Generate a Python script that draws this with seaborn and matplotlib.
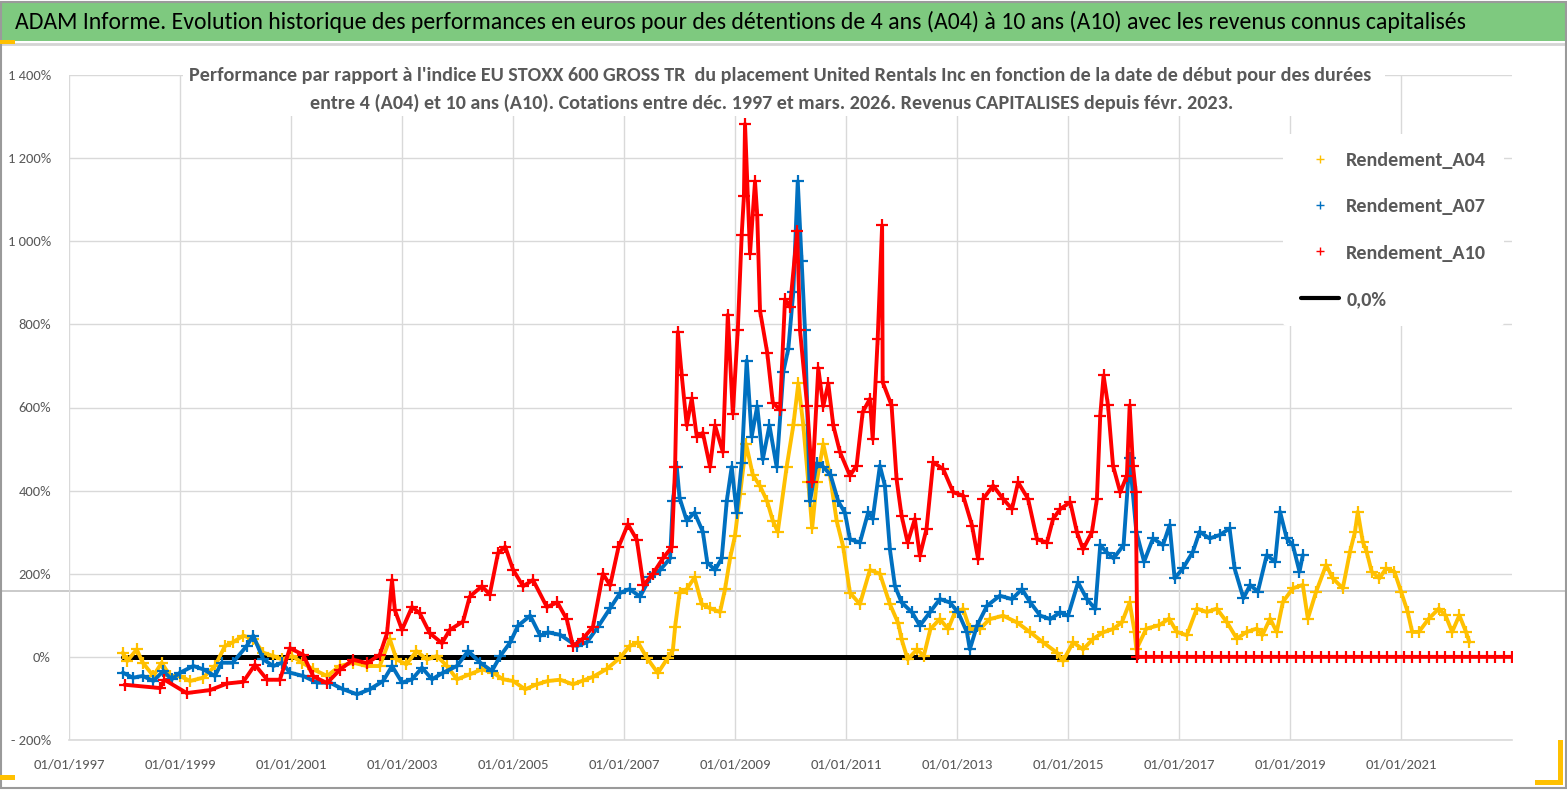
import numpy as np
import pandas as pd
import matplotlib
matplotlib.use("Agg")
import matplotlib.pyplot as plt
import matplotlib.dates as mdates
import matplotlib.ticker as mticker
from matplotlib import font_manager as fm
from matplotlib.lines import Line2D
from matplotlib.patches import Rectangle
import seaborn as sns

# ---------------- data (decimal years, % values) ----------------
a04_years = [1997.97, 1998.05, 1998.22, 1998.33, 1998.52, 1998.67, 1998.82, 1999.0, 1999.18, 1999.42,
             1999.63, 1999.81, 1999.95, 2000.14, 2000.32, 2000.5, 2000.68, 2000.84, 2001.02, 2001.2,
             2001.4, 2001.65, 2001.88, 2002.12, 2002.37, 2002.6, 2002.78, 2002.9, 2003.08, 2003.26,
             2003.45, 2003.63, 2003.81, 2003.99, 2004.22, 2004.44, 2004.64, 2004.82, 2005.0, 2005.22,
             2005.43, 2005.63, 2005.85, 2006.08, 2006.26, 2006.44, 2006.69, 2006.93, 2007.1, 2007.25,
             2007.41, 2007.61, 2007.79, 2007.88, 2007.92, 2008.0, 2008.13, 2008.27, 2008.4, 2008.55,
             2008.73, 2008.82, 2008.91, 2009.0, 2009.09, 2009.2, 2009.32, 2009.45, 2009.58, 2009.68,
             2009.77, 2009.93, 2010.05, 2010.14, 2010.23, 2010.32, 2010.39, 2010.47, 2010.59, 2010.71,
             2010.83, 2010.95, 2011.07, 2011.25, 2011.43, 2011.61, 2011.79, 2011.94, 2012.0, 2012.11,
             2012.28, 2012.4, 2012.52, 2012.69, 2012.84, 2012.96, 2013.11, 2013.23, 2013.41, 2013.59,
             2013.83, 2014.08, 2014.32, 2014.55, 2014.8, 2014.91, 2015.09, 2015.27, 2015.45, 2015.63,
             2015.81, 2015.97, 2016.11, 2016.2, 2016.23, 2016.41, 2016.64, 2016.82, 2016.96, 2017.14,
             2017.32, 2017.5, 2017.68, 2017.86, 2018.04, 2018.22, 2018.4, 2018.5, 2018.64, 2018.76,
             2018.87, 2019.05, 2019.23, 2019.32, 2019.47, 2019.65, 2019.77, 2019.95, 2020.08, 2020.17,
             2020.22, 2020.31, 2020.38, 2020.47, 2020.61, 2020.73, 2020.88, 2021.0, 2021.12, 2021.2,
             2021.32, 2021.5, 2021.68, 2021.8, 2021.92, 2022.05, 2022.17, 2022.23]
a04_values = [10, -10, 18, -14, -46, -14, -46, -46, -58, -50,
              -22, 26, 35, 51, 43, 10, 2, -6, 2, -14,
              -30, -46, -22, -14, -22, -22, 43, -6, -18, 14,
              -6, 2, -22, -54, -42, -30, -38, -54, -58, -78,
              -66, -58, -55, -66, -57, -48, -29, -2, 26, 35,
              -2, -39, -2, 16, 72, 154, 163, 191, 127, 117,
              108, 163, 237, 292, 392, 512, 438, 411, 374, 328,
              301, 457, 557, 658, 557, 420, 310, 420, 512, 438,
              328, 264, 154, 127, 209, 200, 127, 81, 43, -6,
              18, 2, 67, 91, 67, 107, 115, 67, 67, 91,
              99, 83, 59, 35, 10, -10, 35, 18, 43, 59,
              67, 83, 131, 59, 18, 68, 76, 92, 60, 52,
              116, 108, 116, 84, 44, 60, 68, 52, 92, 60,
              132, 165, 173, 92, 157, 221, 189, 165, 253, 301,
              349, 277, 253, 205, 189, 213, 205, 157, 108, 60,
              60, 92, 116, 100, 60, 100, 60, 36]

a07_years = [1997.97, 1998.15, 1998.33, 1998.52, 1998.7, 1998.85, 1999.0, 1999.24, 1999.42, 1999.63,
             1999.75, 1999.95, 2000.2, 2000.32, 2000.5, 2000.68, 2000.84, 2000.98, 2001.22, 2001.47,
             2001.7, 2001.94, 2002.19, 2002.42, 2002.66, 2002.82, 2003.0, 2003.18, 2003.36, 2003.54,
             2003.74, 2003.99, 2004.19, 2004.41, 2004.62, 2004.77, 2004.95, 2005.09, 2005.31, 2005.49,
             2005.63, 2005.85, 2006.15, 2006.33, 2006.53, 2006.75, 2006.93, 2007.1, 2007.29, 2007.47,
             2007.65, 2007.83, 2007.88, 2007.95, 2008.0, 2008.13, 2008.27, 2008.42, 2008.5, 2008.64,
             2008.76, 2008.85, 2008.94, 2009.03, 2009.12, 2009.21, 2009.3, 2009.4, 2009.5, 2009.62,
             2009.75, 2009.87, 2009.96, 2010.05, 2010.13, 2010.2, 2010.26, 2010.35, 2010.47, 2010.59,
             2010.72, 2010.86, 2010.98, 2011.07, 2011.25, 2011.4, 2011.48, 2011.61, 2011.7, 2011.79,
             2011.88, 2012.0, 2012.19, 2012.33, 2012.51, 2012.69, 2012.87, 2013.02, 2013.18, 2013.23,
             2013.36, 2013.54, 2013.77, 2013.99, 2014.17, 2014.32, 2014.5, 2014.68, 2014.86, 2015.0,
             2015.18, 2015.34, 2015.49, 2015.58, 2015.7, 2015.82, 2016.0, 2016.11, 2016.23, 2016.37,
             2016.53, 2016.71, 2016.83, 2016.92, 2017.07, 2017.25, 2017.37, 2017.55, 2017.73, 2017.91,
             2018.0, 2018.16, 2018.28, 2018.42, 2018.58, 2018.73, 2018.82, 2018.94, 2019.05, 2019.17,
             2019.23]
a07_values = [-38, -50, -46, -58, -34, -54, -38, -22, -30, -46,
              -14, -14, 26, 51, -6, -22, -14, -38, -46, -62,
              -62, -78, -90, -78, -58, -22, -62, -54, -26, -54,
              -38, -22, 14, -14, -34, 2, 35, 75, 99, 51,
              59, 53, 26, 35, 72, 117, 154, 163, 145, 191,
              209, 237, 374, 457, 383, 328, 347, 301, 227, 209,
              237, 374, 457, 347, 466, 713, 530, 603, 475, 557,
              457, 686, 741, 879, 1144, 952, 787, 374, 466, 457,
              438, 374, 347, 283, 275, 348, 332, 460, 412, 259,
              171, 131, 107, 75, 107, 139, 131, 107, 59, 18,
              75, 123, 147, 139, 163, 131, 99, 91, 107, 99,
              179, 139, 115, 269, 251, 237, 269, 478, 301, 229,
              285, 269, 317, 189, 213, 253, 301, 285, 293, 309,
              213, 141, 173, 157, 245, 229, 349, 285, 269, 205,
              245]

a10_years = [1998.0, 1998.64, 1998.72, 1999.12, 1999.54, 1999.85, 2000.14, 2000.35, 2000.57, 2000.8,
             2000.98, 2001.22, 2001.4, 2001.65, 2001.88, 2002.12, 2002.37, 2002.6, 2002.73, 2002.82,
             2002.87, 2003.0, 2003.18, 2003.32, 2003.5, 2003.72, 2003.86, 2004.1, 2004.22, 2004.44,
             2004.58, 2004.73, 2004.86, 2005.0, 2005.18, 2005.36, 2005.61, 2005.8, 2005.97, 2006.08,
             2006.26, 2006.44, 2006.62, 2006.75, 2006.9, 2007.07, 2007.23, 2007.35, 2007.52, 2007.7,
             2007.86, 2007.92, 2007.97, 2008.04, 2008.13, 2008.22, 2008.31, 2008.42, 2008.55, 2008.64,
             2008.78, 2008.87, 2008.96, 2009.05, 2009.12, 2009.16, 2009.18, 2009.27, 2009.36, 2009.4,
             2009.45, 2009.58, 2009.68, 2009.81, 2009.9, 2009.99, 2010.12, 2010.17, 2010.3, 2010.39,
             2010.5, 2010.59, 2010.68, 2010.77, 2010.89, 2011.07, 2011.19, 2011.3, 2011.43, 2011.48,
             2011.57, 2011.65, 2011.66, 2011.82, 2011.91, 2012.0, 2012.11, 2012.24, 2012.33, 2012.45,
             2012.57, 2012.75, 2012.93, 2013.11, 2013.27, 2013.38, 2013.47, 2013.65, 2013.83, 2013.99,
             2014.1, 2014.28, 2014.44, 2014.62, 2014.73, 2014.86, 2015.04, 2015.16, 2015.27, 2015.43,
             2015.52, 2015.58, 2015.64, 2015.72, 2015.81, 2015.94, 2016.06, 2016.11, 2016.17, 2016.22,
             2016.25, 2016.4, 2016.55, 2016.7, 2016.85, 2017.0, 2017.15, 2017.3, 2017.45, 2017.6,
             2017.75, 2017.9, 2018.05, 2018.2, 2018.35, 2018.5, 2018.65, 2018.8, 2018.95, 2019.1,
             2019.25, 2019.4, 2019.55, 2019.7, 2019.85, 2020.0, 2020.15, 2020.3, 2020.45, 2020.6,
             2020.75, 2020.9, 2021.05, 2021.2, 2021.35, 2021.5, 2021.65, 2021.8, 2021.95, 2022.1,
             2022.25, 2022.4, 2022.55, 2022.7, 2022.85, 2023.0]
a10_values = [-67, -75, -55, -87, -80, -64, -60, -19, -55, -55,
              21, 5, -47, -63, -31, -7, -15, 5, 57, 185,
              113, 65, 120, 105, 57, 33, 65, 85, 145, 170,
              150, 250, 265, 210, 170, 185, 120, 131, 90, 26,
              44, 72, 200, 172, 264, 319, 282, 172, 200, 237,
              264, 457, 782, 677, 557, 622, 530, 539, 457, 557,
              493, 823, 585, 787, 1016, 1108, 1282, 970, 1144, 1062,
              833, 732, 612, 594, 860, 842, 1025, 787, 603, 420,
              695, 603, 658, 557, 493, 436, 460, 589, 621, 524,
              765, 1038, 661, 605, 428, 340, 275, 332, 243, 308,
              468, 452, 396, 388, 316, 235, 380, 412, 380, 356,
              420, 380, 283, 275, 332, 356, 372, 300, 259, 300,
              380, 580, 677, 605, 460, 396, 436, 605, 460, 396,
              0, 0, 0, 0, 0, 0, 0, 0, 0, 0,
              0, 0, 0, 0, 0, 0, 0, 0, 0, 0,
              0, 0, 0, 0, 0, 0, 0, 0, 0, 0,
              0, 0, 0, 0, 0, 0, 0, 0, 0, 0,
              0, 0, 0, 0, 0, 0]

zero_years = [1997.97, 2016.25]
zero_values = [0, 0]

series_names = ["Rendement_A04", "Rendement_A07", "Rendement_A10"]
series_colors = ["#FFC000", "#0070C0", "#FF0000"]
zero_label = "0,0%"
x_tick_years = list(range(1997, 2022, 2))
y_ticks = list(range(-200, 1401, 200))

TITLE = ("ADAM Informe. Evolution historique des performances en euros pour des détentions "
         "de 4 ans (A04) à 10 ans (A10) avec les revenus connus capitalisés")
SUB1 = ("Performance par rapport à l'indice EU STOXX 600 GROSS TR  du placement United Rentals Inc "
        "en fonction de la date de début pour des durées")
SUB2 = ("entre 4 (A04) et 10 ans (A10). Cotations entre déc. 1997 et mars. 2026. "
        "Revenus CAPITALISES depuis févr. 2023.")


def to_dates(years):
    base = pd.Timestamp("1997-01-01")
    return [base + pd.to_timedelta((y - 1997) * 365.25, unit="D") for y in years]


# ---------------- style ----------------
sns.set_theme(style="white")
names = {f.name for f in fm.fontManager.ttflist}
FONT = "DejaVu Sans"
for cand in ["Carlito", "Liberation Sans Narrow", "PT Sans Narrow", "Roboto Condensed",
             "Open Sans Condensed", "Fira Sans Condensed", "IBM Plex Sans Condensed",
             "Archivo Narrow", "Encode Sans Condensed"]:
    if cand in names:
        FONT = cand
        break
plt.rcParams["font.family"] = [FONT, "DejaVu Sans"]

W, H = 1567, 790
fig = plt.figure(figsize=(W / 100, H / 100), dpi=100)
fig.patch.set_facecolor("white")
renderer = fig.canvas.get_renderer()


def fit_size(s, target_px, weight="normal", base=12.0):
    t = fig.text(0, 0, s, fontsize=base, fontweight=weight)
    w = t.get_window_extent(renderer=renderer).width
    t.remove()
    return base * target_px / w


def fx(px):
    return px / W


def fy(py):
    return 1 - py / H


fs_title = fit_size(TITLE, 1447)
fs_sub = fit_size(SUB1, 1186, "bold")
fs_x = fit_size("01/01/1997", 71)
fs_y = fit_size("1 400%", 43)
fs_leg = fit_size("Rendement_A04", 140, "bold")

ax = fig.add_axes([fx(69), fy(740), fx(1512) - fx(69), fy(75) - fy(740)])
ax.set_facecolor("white")

# gray guide line crossing the picture
ax.add_line(Line2D([0, 1], [fy(591), fy(591)], transform=fig.transFigure, color="#C6C6C6",
                   lw=1.3, clip_on=False, zorder=0.5))

# zero line
sns.lineplot(x=to_dates(zero_years), y=zero_values, ax=ax, color="black", lw=3.6,
             zorder=2, legend=False)

all_years = [a04_years, a07_years, a10_years]
all_vals = [a04_values, a07_values, a10_values]
for name, col, yrs, vals, z in zip(series_names, series_colors, all_years, all_vals, [3, 4, 5]):
    df = pd.DataFrame({"date": to_dates(yrs), "value": vals})
    sns.lineplot(data=df, x="date", y="value", ax=ax, color=col, lw=2.8, marker="+",
                 markersize=8, markeredgewidth=1.6, markeredgecolor=col, sort=False,
                 estimator=None, zorder=z, legend=False)

ax.set_xlim(pd.Timestamp("1997-01-01"), pd.Timestamp("2023-01-01"))
ax.set_ylim(-200, 1400)
ax.set_xticks([pd.Timestamp(f"{y}-01-01") for y in x_tick_years])
ax.xaxis.set_major_formatter(mdates.DateFormatter("%d/%m/%Y"))
ax.set_yticks(y_ticks)


def yfmt(v, pos):
    v = int(round(v))
    s = f"{abs(v):,}".replace(",", " ") + "%"
    return ("- " + s) if v < 0 else s


ax.yaxis.set_major_formatter(mticker.FuncFormatter(yfmt))
ax.grid(True, color="#D9D9D9", lw=1.0)
ax.set_axisbelow(True)
for s in ["top", "right", "left"]:
    ax.spines[s].set_visible(False)
ax.spines["bottom"].set_color("#D9D9D9")
ax.spines["bottom"].set_linewidth(1.2)
ax.tick_params(axis="both", length=0, colors="#595959")
ax.tick_params(axis="x", labelsize=fs_x, pad=13)
ax.tick_params(axis="y", labelsize=fs_y, pad=13)
ax.set_xlabel("")
ax.set_ylabel("")

# legend
handles = [Line2D([], [], color=c, marker="+", ls="none", markersize=6, markeredgewidth=1.0)
           for c in series_colors]
handles.append(Line2D([], [], color="black", lw=3))
fs_leg_px = fs_leg * 100 / 72
leg = ax.legend(handles, series_names + [zero_label], loc="upper left",
                bbox_to_anchor=((1283 - 69) / 1443, (740 - 134) / 665),
                frameon=True, facecolor="white", edgecolor="none", framealpha=1,
                fontsize=fs_leg, labelspacing=max(0.3, 46 / fs_leg_px - 0.84),
                handlelength=1.9, handletextpad=0.35,
                borderpad=0.9, borderaxespad=0)
for t in leg.get_texts():
    t.set_color("#595959")
    t.set_fontweight("bold")
leg.set_zorder(10)

# title bar
fig.add_artist(Rectangle((0, fy(41)), 1, fy(3) - fy(41), transform=fig.transFigure,
                         facecolor="#7EC97F", edgecolor="none", zorder=1))
fig.add_artist(Line2D([0, 1], [fy(44), fy(44)], transform=fig.transFigure, color="#D4D4D4", lw=2))
fig.text(fx(15), fy(22), TITLE, ha="left", va="center", fontsize=fs_title, color="black", zorder=4)

# subtitle (white box hides the grid behind it)
fig.add_artist(Rectangle((fx(183), fy(116)), fx(1385 - 183), fy(60) - fy(116),
                         transform=fig.transFigure, facecolor="white", edgecolor="none", zorder=3))
fig.text(fx(780), fy(75), SUB1, ha="center", va="center", fontsize=fs_sub, fontweight="bold",
         color="#595959", zorder=4)
fig.text(fx(772), fy(103), SUB2, ha="center", va="center", fontsize=fs_sub, fontweight="bold",
         color="#595959", zorder=4)

# frame and small selection marks
fig.add_artist(Rectangle((fx(1), fy(788)), fx(1565), fy(2) - fy(788), transform=fig.transFigure,
                         facecolor="none", edgecolor="#9A9A9A", lw=1.5, zorder=6))
fig.add_artist(Rectangle((0, fy(44)), fx(15), fy(40) - fy(44), transform=fig.transFigure,
                         facecolor="#FFC000", edgecolor="none", zorder=7))
fig.add_artist(Rectangle((0, fy(780)), fx(15), fy(775) - fy(780), transform=fig.transFigure,
                         facecolor="#FFC000", edgecolor="none", zorder=7))
fig.add_artist(Rectangle((fx(1558), fy(785)), fx(5), fy(740) - fy(785), transform=fig.transFigure,
                         facecolor="#FFC000", edgecolor="none", zorder=7))
fig.add_artist(Rectangle((fx(1535), fy(785)), fx(28), fy(780) - fy(785), transform=fig.transFigure,
                         facecolor="#FFC000", edgecolor="none", zorder=7))

fig.savefig("out.png", dpi=100, facecolor="white")
